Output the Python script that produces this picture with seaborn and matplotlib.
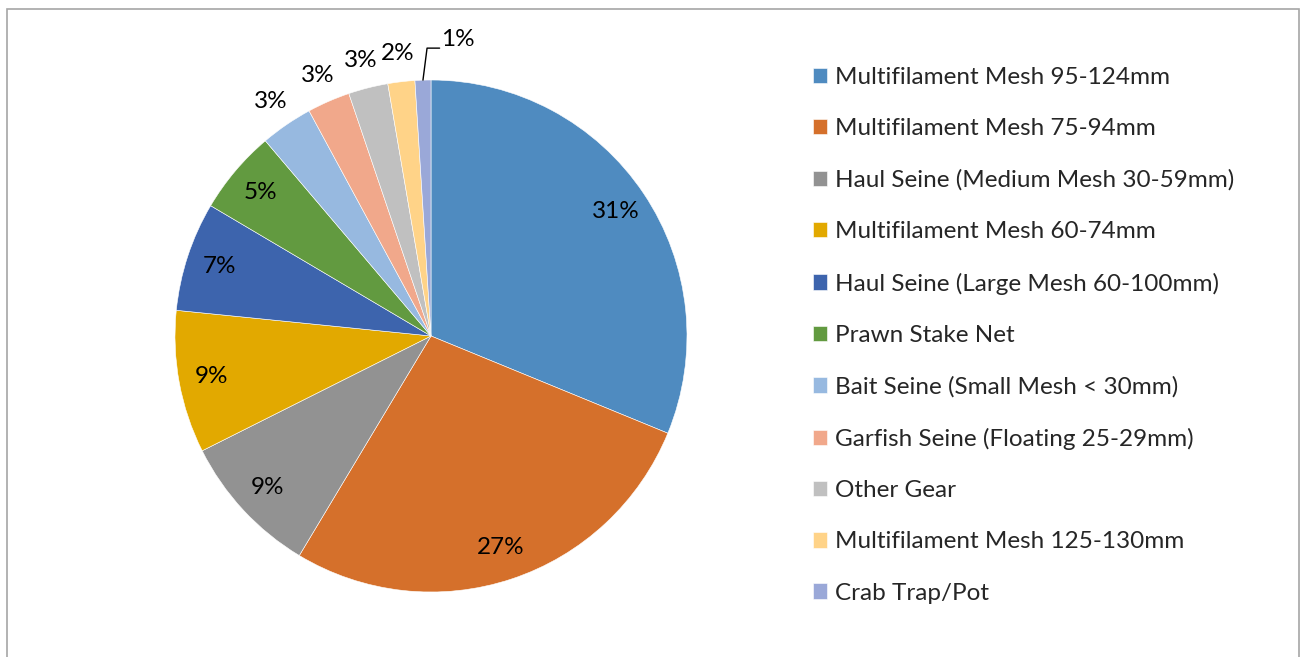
import numpy as np
import matplotlib
matplotlib.use("Agg")
import matplotlib.pyplot as plt
import seaborn as sns
from matplotlib.patches import Rectangle

# ===== Data =====
gear_types = [
    "Multifilament Mesh 95-124mm",
    "Multifilament Mesh 75-94mm",
    "Haul Seine (Medium Mesh 30-59mm)",
    "Multifilament Mesh 60-74mm",
    "Haul Seine (Large Mesh 60-100mm)",
    "Prawn Stake Net",
    "Bait Seine (Small Mesh < 30mm)",
    "Garfish Seine (Floating 25-29mm)",
    "Other Gear",
    "Multifilament Mesh 125-130mm",
    "Crab Trap/Pot",
]
shares = [31.2, 27.4, 9.0, 9.0, 6.9, 5.3, 3.3, 2.7, 2.5, 1.7, 1.0]
pct_labels = ["31%", "27%", "9%", "9%", "7%", "5%", "3%", "3%", "3%", "2%", "1%"]
slice_colors = ["#4F8BC0", "#D5702B", "#929292", "#E2A900", "#3D64AD",
                "#629A40", "#97B9E0", "#F1A88B", "#C0C0C0", "#FFD388", "#9AA8D8"]

# ===== Style =====
sns.set_theme(style="white")
plt.rcParams["font.family"] = ["Lato", "DejaVu Sans"]
palette = sns.color_palette(slice_colors)

fig = plt.figure(figsize=(13, 6.57), dpi=100)
ax = fig.add_axes([175 / 1300, 65 / 657, 512 / 1300, 512 / 657])

wedges, _ = ax.pie(shares, colors=palette, startangle=90, counterclock=False,
                   radius=1.0, wedgeprops=dict(linewidth=0.4, edgecolor="white"))
ax.set_xlim(-1, 1)
ax.set_ylim(-1, 1)
ax.set_aspect("equal")
ax.axis("off")

# ===== Percent labels =====
for i, w in enumerate(wedges):
    mid = np.deg2rad((w.theta1 + w.theta2) / 2)
    if shares[i] >= 4:
        r = 0.87
    else:
        r = 1.11
    x, y = r * np.cos(mid), r * np.sin(mid)
    if i == len(wedges) - 1:
        # smallest slice gets a leader line
        ex, ey = np.cos(mid), np.sin(mid)
        ax.plot([ex, ex + 0.016, ex + 0.065], [ey, ey + 0.125, ey + 0.125],
                color="black", lw=1, clip_on=False)
        ax.text(ex + 0.07, ey + 0.16, pct_labels[i], fontsize=17.5,
                ha="left", va="center", color="black")
        continue
    ax.text(x, y, pct_labels[i], fontsize=17.5, ha="center", va="center", color="black")

# ===== Legend =====
leg = fig.legend(wedges, gear_types, loc="upper left",
                 bbox_to_anchor=(791 / 1300, 1 - 45 / 657), frameon=False,
                 fontsize=17.5, handlelength=0.6, handleheight=0.6,
                 handletextpad=0.3, labelspacing=1.245)

# chart border
fig.patches.append(Rectangle((7 / 1300, -0.01), 1292 / 1300, 1 - 9 / 657 + 0.01,
                             transform=fig.transFigure, fill=False,
                             edgecolor="#A6A6A6", linewidth=1.2))

fig.savefig("out.png", dpi=100, facecolor="white")
